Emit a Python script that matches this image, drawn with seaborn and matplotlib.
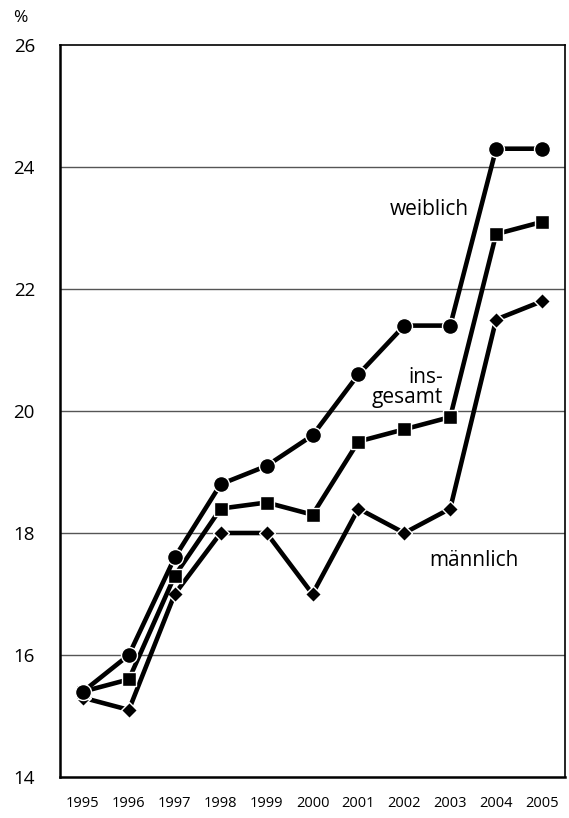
import pandas as pd
import matplotlib.pyplot as plt
import seaborn as sns
import numpy as np

# === Data ===
years = [1995, 1996, 1997, 1998, 1999, 2000, 2001, 2002, 2003, 2004, 2005]
weiblich = [15.4, 16.0, 17.6, 18.8, 19.1, 19.6, 20.6, 21.4, 21.4, 24.3, 24.3]
insgesamt = [15.4, 15.6, 17.3, 18.4, 18.5, 18.3, 19.5, 19.7, 19.9, 22.9, 23.1]
maennlich = [15.3, 15.1, 17.0, 18.0, 18.0, 17.0, 18.4, 18.0, 18.4, 21.5, 21.8]
y_ticks = [14, 16, 18, 20, 22, 24, 26]

df = pd.DataFrame({
    "Jahr": years * 3,
    "Wert": weiblich + insgesamt + maennlich,
    "Gruppe": ["weiblich"] * 11 + ["insgesamt"] * 11 + ["männlich"] * 11,
})

sns.set_style("white")
plt.rcParams['font.family'] = ['Open Sans', 'DejaVu Sans']

fig = plt.figure(figsize=(5.69, 8.18), dpi=100)
ax = fig.add_axes([60 / 569, 1 - 777 / 818, 505 / 569, 732 / 818])

for y in y_ticks[1:-1]:
    ax.axhline(y, color="#555555", lw=1.0, zorder=0)
n_grid = len(ax.lines)

# männlich first so the others sit on top
sns.lineplot(data=df, x="Jahr", y="Wert", hue="Gruppe", style="Gruppe",
             hue_order=["männlich", "insgesamt", "weiblich"],
             style_order=["männlich", "insgesamt", "weiblich"],
             palette=["black", "black", "black"],
             markers={"weiblich": "o", "insgesamt": "s", "männlich": "D"},
             dashes=False, lw=3.3, markersize=11, markeredgecolor="white",
             markeredgewidth=1.0, legend=False, ax=ax, zorder=3)

for line, ms in zip(ax.lines[n_grid:], [8.5, 10.5, 11.5]):
    line.set_markersize(ms)

ax.set_xlim(1994.5, 2005.5)
ax.set_ylim(14, 26)
ax.set_xticks(years)
ax.set_xticklabels([str(y) for y in years], fontsize=10.5, color="black")
ax.set_xticks(np.arange(1994.5, 2006, 1), minor=True)
ax.tick_params(axis="x", which="major", length=0, pad=14)
ax.tick_params(axis="x", which="minor", length=8, width=1.5, color="black", direction="out")
ax.set_yticks(y_ticks)
ax.set_yticklabels([str(y) for y in y_ticks], fontsize=13.5, color="black")
ax.tick_params(axis="y", length=8, width=1.5, color="black", direction="out", pad=10)
ax.set_xlabel("")
ax.set_ylabel("")

for side in ["left", "bottom"]:
    ax.spines[side].set_color("black")
    ax.spines[side].set_linewidth(1.8)
for side in ["top", "right"]:
    ax.spines[side].set_color("black")
    ax.spines[side].set_linewidth(1.2)

ax.text(2003.4, 23.3, "weiblich", ha="right", va="center", fontsize=15, color="black")
ax.text(2002.85, 20.38, "ins-\ngesamt", ha="right", va="center", fontsize=15,
        linespacing=0.95, multialignment="right", color="black")
ax.text(2002.55, 17.55, "männlich", ha="left", va="center", fontsize=15, color="black")
fig.text(13 / 569, 1 - 18 / 818, "%", ha="left", va="center", fontsize=12.5, color="black")

fig.savefig("out.png", dpi=100)
